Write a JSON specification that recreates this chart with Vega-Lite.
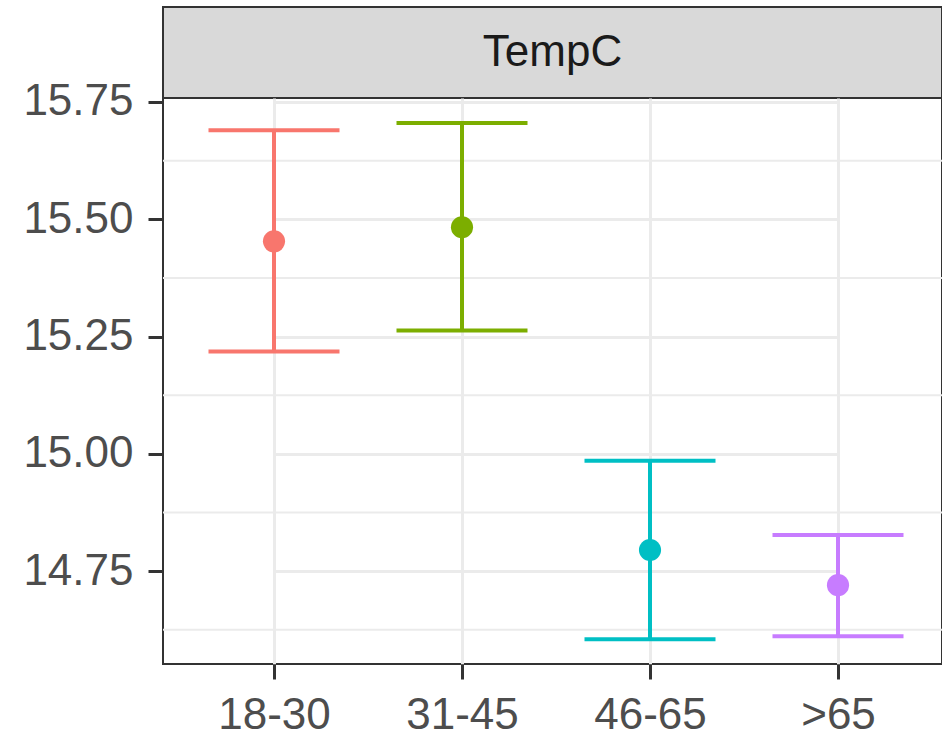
{
  "$schema": "https://vega.github.io/schema/vega-lite/v6.json",
  "background": "white",
  "padding": {"left": 21, "top": 6, "right": 0, "bottom": 0},
  "spacing": 0,
  "bounds": "flush",
  "config": {"font": "Liberation Sans", "concat": {"spacing": 0}},
  "vconcat": [
    {
      "width": 779,
      "height": 91,
      "view": {"fill": "#D9D9D9", "stroke": "#333333", "strokeWidth": 2},
      "data": {"values": [{"strip": "TempC"}]},
      "mark": {"type": "text", "fontSize": 44, "color": "#1A1A1A", "baseline": "middle", "align": "center"},
      "encoding": {"text": {"field": "strip", "type": "nominal"}}
    },
    {
      "width": 779,
      "height": 566,
      "view": {"stroke": "#333333", "strokeWidth": 2},
      "data": {"values": [
        {"age": "18-30", "mean": 15.453, "lo": 15.218, "hi": 15.690},
        {"age": "31-45", "mean": 15.483, "lo": 15.263, "hi": 15.705},
        {"age": "46-65", "mean": 14.795, "lo": 14.605, "hi": 14.985},
        {"age": ">65", "mean": 14.720, "lo": 14.611, "hi": 14.827}
      ]},
      "encoding": {
        "x": {
          "field": "age", "type": "ordinal",
          "sort": ["18-30", "31-45", "46-65", ">65"],
          "scale": {"type": "point", "range": [111, 675], "padding": 0},
          "axis": {
            "title": null, "labelFontSize": 44, "labelColor": "#4D4D4D",
            "tickSize": 15, "tickWidth": 3, "tickColor": "#333333",
            "labelPadding": 14, "domain": false, "labelAngle": 0,
            "grid": true, "gridColor": "#EBEBEB", "gridWidth": 3
          }
        },
        "color": {
          "field": "age", "type": "nominal",
          "scale": {"domain": ["18-30", "31-45", "46-65", ">65"], "range": ["#F8766D", "#7CAE00", "#00BFC4", "#C77CFF"]},
          "legend": null
        }
      },
      "layer": [
        {
          "data": {"values": [{"g": 14.625}, {"g": 14.875}, {"g": 15.125}, {"g": 15.375}, {"g": 15.625}]},
          "mark": {"type": "rule", "color": "#EBEBEB", "strokeWidth": 2},
          "encoding": {
            "x": null,
            "color": null,
            "y": {
              "field": "g", "type": "quantitative",
              "scale": {"domain": [14.552, 15.7585], "nice": false, "zero": false},
              "axis": {
                "title": null, "values": [14.75, 15.0, 15.25, 15.5, 15.75], "format": ".2f",
                "labelFontSize": 44, "labelColor": "#4D4D4D",
                "tickSize": 15, "tickWidth": 3, "tickColor": "#333333",
                "labelPadding": 15, "domain": false,
                "grid": true, "gridColor": "#EBEBEB", "gridWidth": 3
              }
            }
          }
        },
        {
          "mark": {"type": "rule", "strokeWidth": 4, "opacity": 1},
          "encoding": {
            "y": {"field": "lo", "type": "quantitative", "axis": {"title": null}},
            "y2": {"field": "hi"}
          }
        },
        {
          "mark": {"type": "tick", "orient": "horizontal", "size": 131, "thickness": 4, "opacity": 1},
          "encoding": {"y": {"field": "lo", "type": "quantitative", "axis": {"title": null}}}
        },
        {
          "mark": {"type": "tick", "orient": "horizontal", "size": 131, "thickness": 4, "opacity": 1},
          "encoding": {"y": {"field": "hi", "type": "quantitative", "axis": {"title": null}}}
        },
        {
          "mark": {"type": "point", "filled": true, "opacity": 1, "size": 490},
          "encoding": {"y": {"field": "mean", "type": "quantitative", "axis": {"title": null}}}
        }
      ]
    }
  ]
}
